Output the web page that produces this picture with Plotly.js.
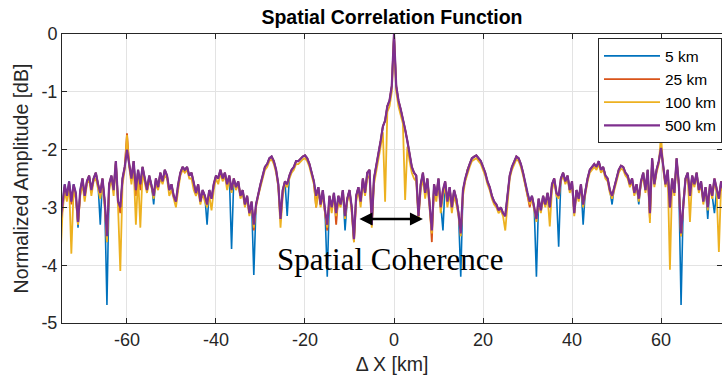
<!DOCTYPE html>
<html>
<head>
<meta charset="utf-8">
<script src="https://cdn.plot.ly/plotly-3.0.1.min.js"></script>
<style>html,body{margin:0;padding:0;background:#fff;overflow:hidden}</style>
</head>
<body>
<div id="chart" style="width:722px;height:384px"></div>
<script>
// Sample grid: first ΔX and spacing [km]
const X_START = -75;
const X_STEP = 0.5;

const seriesNames = ['5 km', '25 km', '100 km', '500 km'];

// 5 km (blue)
const amp5km = [
-3.3,-3.0,-2.6,-2.8,-2.55,-2.9,-2.6,-2.75,-3.35,-2.7,
-2.5,-2.8,-2.55,-2.45,-2.7,-2.5,-2.4,-2.6,-3.3,-2.5,
-2.9,-4.69,-2.6,-2.45,-2.7,-2.2,-2.9,-3.0,-2.5,-2.3,
-2.0,-2.25,-2.5,-2.2,-2.7,-2.35,-2.6,-2.3,-2.5,-2.7,
-2.45,-2.6,-2.95,-2.5,-2.65,-2.4,-2.55,-2.35,-2.45,-2.7,
-2.6,-2.8,-2.9,-2.6,-2.4,-2.3,-2.35,-2.3,-2.45,-2.4,
-2.6,-2.75,-2.6,-2.9,-2.7,-2.8,-3.3,-2.7,-2.85,-2.6,
-2.45,-2.5,-2.35,-2.5,-2.4,-2.6,-2.45,-3.72,-2.5,-2.65,
-2.55,-2.8,-2.7,-2.95,-2.8,-3.1,-2.9,-4.17,-2.95,-2.75,
-2.6,-2.45,-2.3,-2.25,-2.15,-2.12,-2.2,-2.35,-2.6,-3.2,
-2.7,-2.55,-3.15,-2.45,-2.35,-2.3,-2.2,-2.2,-2.15,-2.12,
-2.1,-2.15,-2.25,-2.4,-2.55,-2.8,-2.65,-2.95,-2.7,-3.05,
-4.2,-2.8,-3.0,-2.75,-3.1,-2.8,-2.95,-2.7,-3.4,-2.85,
-2.7,-3.0,-3.55,-2.8,-2.65,-2.9,-2.5,-2.75,-2.4,-2.35,
-3.3,-2.5,-2.3,-2.05,-1.85,-1.6,-1.5,-1.25,-1.15,-0.9,
0,-0.9,-1.15,-1.3,-1.45,-1.65,-1.85,-2.1,-2.3,-2.4,
-2.45,-3.15,-2.6,-2.4,-2.75,-2.5,-2.9,-3.4,-2.6,-2.8,
-2.5,-3.0,-3.4,-2.55,-2.9,-2.65,-3.0,-2.7,-2.85,-3.1,
-4.2,-2.7,-2.5,-2.35,-2.25,-2.15,-2.12,-2.1,-2.15,-2.2,
-2.3,-2.4,-2.55,-2.65,-2.8,-2.9,-2.95,-3.05,-3.0,-3.1,
-3.15,-2.8,-2.45,-2.3,-2.2,-2.12,-2.15,-2.25,-2.4,-2.6,
-2.75,-2.9,-2.8,-3.0,-4.2,-2.85,-3.05,-2.8,-2.95,-2.75,
-3.0,-2.6,-2.5,-2.75,-3.68,-2.5,-2.4,-2.55,-2.45,-2.7,
-2.55,-3.1,-2.7,-2.85,-2.6,-3.3,-2.7,-2.5,-2.35,-2.3,
-2.25,-2.3,-2.2,-2.35,-2.3,-2.45,-2.5,-2.7,-2.95,-2.65,
-2.5,-2.35,-2.28,-2.3,-2.4,-2.45,-2.6,-2.5,-2.75,-2.6,
-2.95,-2.55,-2.4,-2.7,-2.35,-3.1,-2.15,-2.6,-2.35,-2.2,
-1.97,-2.3,-2.6,-2.35,-3.0,-2.5,-2.75,-2.15,-2.6,-4.69,
-2.9,-2.5,-2.4,-2.8,-2.45,-2.6,-2.4,-2.7,-2.55,-2.9,
-2.65,-3.2,-2.6,-2.8,-3.1,-2.7,-2.85,-2.55,-2.7
];

// 25 km (orange)
const amp25km = [
-3.4,-3.05,-2.65,-2.85,-2.6,-2.95,-2.65,-2.8,-3.3,-2.75,
-2.5,-2.8,-2.55,-2.45,-2.7,-2.5,-2.4,-2.6,-2.75,-2.5,
-2.9,-3.6,-2.6,-2.45,-2.7,-2.2,-2.9,-3.1,-2.5,-2.3,
-1.72,-2.25,-2.5,-2.2,-2.8,-2.35,-2.7,-2.3,-2.5,-2.7,
-2.45,-2.6,-2.8,-2.5,-2.65,-2.4,-2.55,-2.35,-2.45,-2.7,
-2.6,-2.8,-2.9,-2.6,-2.4,-2.3,-2.35,-2.3,-2.45,-2.4,
-2.6,-2.75,-2.6,-2.9,-2.7,-2.8,-2.95,-2.7,-2.85,-2.6,
-2.45,-2.5,-2.35,-2.5,-2.4,-2.6,-2.45,-2.7,-2.5,-2.65,
-2.55,-2.8,-2.7,-2.95,-2.8,-3.1,-2.9,-3.4,-2.95,-2.75,
-2.6,-2.45,-2.3,-2.25,-2.15,-2.12,-2.2,-2.35,-2.6,-3.2,
-2.7,-2.55,-2.6,-2.45,-2.35,-2.3,-2.2,-2.2,-2.15,-2.12,
-2.1,-2.15,-2.25,-2.4,-2.55,-3.0,-2.65,-2.95,-2.7,-3.1,
-3.4,-2.8,-3.0,-2.75,-3.3,-2.8,-2.95,-2.7,-3.15,-2.85,
-2.7,-3.0,-3.6,-2.8,-2.65,-2.9,-2.5,-2.75,-2.4,-2.35,
-3.3,-2.5,-2.3,-2.05,-1.85,-1.6,-1.5,-1.25,-1.15,-0.9,
0,-0.9,-1.15,-1.3,-1.45,-1.65,-1.85,-2.1,-2.3,-2.4,
-2.45,-3.15,-2.6,-2.4,-2.75,-2.5,-2.9,-3.6,-2.6,-2.8,
-2.5,-3.0,-2.7,-2.55,-2.9,-2.65,-3.0,-2.7,-2.85,-3.1,
-3.45,-2.7,-2.5,-2.35,-2.25,-2.15,-2.12,-2.1,-2.15,-2.2,
-2.3,-2.4,-2.55,-2.65,-2.8,-2.9,-2.95,-3.05,-3.0,-3.1,
-3.15,-2.8,-2.45,-2.3,-2.2,-2.12,-2.15,-2.25,-2.4,-2.6,
-2.75,-3.0,-2.8,-3.0,-3.2,-2.85,-3.05,-2.8,-2.95,-2.75,
-3.0,-2.6,-2.5,-2.75,-2.8,-2.5,-2.4,-2.55,-2.45,-2.7,
-2.55,-3.1,-2.7,-2.85,-2.6,-2.95,-2.7,-2.5,-2.35,-2.3,
-2.25,-2.3,-2.2,-2.35,-2.3,-2.45,-2.5,-2.7,-2.8,-2.65,
-2.5,-2.35,-2.28,-2.3,-2.4,-2.45,-2.6,-2.5,-2.75,-2.6,
-2.85,-2.55,-2.4,-2.7,-2.35,-3.2,-2.15,-2.6,-2.35,-2.2,
-1.97,-2.3,-2.6,-2.35,-3.0,-2.5,-2.75,-2.15,-2.6,-3.5,
-2.9,-2.5,-2.4,-2.8,-2.45,-2.6,-2.4,-2.7,-2.55,-2.9,
-2.65,-3.0,-2.6,-2.8,-2.5,-2.7,-2.85,-2.55,-2.7
];

// 100 km (yellow)
const amp100km = [
-4.0,-3.1,-2.7,-2.9,-2.6,-3.8,-2.7,-2.85,-3.3,-2.8,
-2.6,-2.9,-2.6,-2.5,-2.8,-2.55,-2.5,-2.7,-2.85,-2.6,
-3.0,-3.6,-2.7,-2.5,-2.8,-2.25,-3.0,-4.1,-2.6,-2.35,
-1.75,-2.3,-2.6,-2.3,-3.3,-2.45,-3.35,-2.4,-2.6,-2.75,
-2.55,-2.65,-2.85,-2.6,-2.7,-2.5,-2.6,-2.45,-2.5,-2.8,
-2.7,-2.85,-3.0,-2.7,-2.45,-2.35,-2.4,-2.35,-2.5,-2.5,
-2.7,-2.8,-2.7,-2.95,-2.75,-2.9,-3.0,-2.8,-3.05,-2.7,
-2.5,-2.6,-2.4,-2.55,-2.45,-2.7,-2.5,-2.75,-2.55,-2.7,
-2.6,-2.85,-2.75,-3.0,-2.85,-3.15,-2.95,-3.35,-3.0,-2.8,
-2.65,-2.5,-2.35,-2.3,-2.2,-2.17,-2.25,-2.4,-2.65,-3.35,
-2.8,-2.6,-2.65,-2.5,-2.4,-2.35,-2.25,-2.25,-2.2,-2.17,
-2.15,-2.2,-2.3,-2.45,-2.6,-3.0,-2.7,-3.0,-2.8,-3.1,
-3.35,-2.85,-3.1,-2.8,-3.15,-2.9,-3.0,-2.75,-3.2,-2.9,
-2.75,-3.1,-3.6,-2.9,-2.7,-3.0,-2.6,-2.8,-2.5,-2.45,
-3.35,-2.6,-2.4,-2.15,-1.95,-1.7,-2.9,-1.35,-1.25,-1.0,
-0.05,-1.0,-1.25,-1.4,-1.55,-2.87,-1.95,-2.2,-2.4,-2.5,
-2.55,-3.2,-2.7,-2.5,-2.85,-2.6,-3.0,-3.45,-2.7,-2.9,
-2.6,-3.1,-2.8,-2.65,-3.0,-2.75,-3.1,-2.8,-2.95,-3.15,
-3.5,-2.8,-2.55,-2.4,-2.3,-2.2,-2.17,-2.15,-2.2,-2.25,
-2.35,-2.45,-2.6,-2.7,-2.85,-2.95,-3.0,-3.1,-3.05,-3.15,
-3.4,-2.9,-2.5,-2.35,-2.25,-2.17,-2.2,-2.3,-2.45,-2.65,
-2.8,-2.95,-2.85,-3.05,-3.25,-2.9,-3.1,-2.85,-3.0,-2.8,
-3.33,-2.7,-2.55,-2.8,-2.85,-2.55,-2.45,-2.6,-2.5,-2.75,
-2.6,-3.15,-2.75,-2.9,-2.65,-3.0,-2.75,-2.55,-2.4,-2.35,
-2.3,-2.35,-2.25,-2.4,-2.35,-2.5,-2.55,-2.75,-2.85,-2.7,
-2.55,-2.4,-2.33,-2.35,-2.45,-2.5,-2.65,-2.55,-2.8,-2.65,
-2.9,-2.6,-2.45,-2.75,-2.4,-3.27,-2.2,-2.65,-2.4,-2.25,
-1.75,-2.35,-2.65,-2.4,-4.08,-2.55,-2.8,-2.2,-2.65,-3.5,
-2.95,-2.55,-2.45,-3.25,-2.5,-2.65,-2.45,-2.75,-2.6,-2.95,
-2.7,-3.05,-2.65,-2.85,-2.55,-2.75,-3.77,-2.6,-2.75
];

// 500 km (purple)
const amp500km = [
-3.3,-3.0,-2.6,-2.8,-2.55,-2.9,-2.6,-2.75,-3.25,-2.7,
-2.5,-2.8,-2.55,-2.45,-2.7,-2.5,-2.4,-2.6,-2.75,-2.5,
-2.9,-3.5,-2.6,-2.45,-2.7,-2.2,-2.9,-3.0,-2.5,-2.3,
-2.0,-2.25,-2.5,-2.2,-2.7,-2.35,-2.6,-2.3,-2.5,-2.7,
-2.45,-2.6,-2.8,-2.5,-2.65,-2.4,-2.55,-2.35,-2.45,-2.7,
-2.6,-2.8,-2.9,-2.6,-2.4,-2.3,-2.35,-2.3,-2.45,-2.4,
-2.6,-2.75,-2.6,-2.9,-2.7,-2.8,-2.95,-2.7,-2.85,-2.6,
-2.45,-2.5,-2.35,-2.5,-2.4,-2.6,-2.45,-2.7,-2.5,-2.65,
-2.55,-2.8,-2.7,-2.95,-2.8,-3.1,-2.9,-3.3,-2.95,-2.75,
-2.6,-2.45,-2.3,-2.25,-2.15,-2.12,-2.2,-2.35,-2.6,-3.2,
-2.7,-2.55,-2.6,-2.45,-2.35,-2.3,-2.2,-2.2,-2.15,-2.12,
-2.1,-2.15,-2.25,-2.4,-2.55,-2.8,-2.65,-2.95,-2.7,-3.05,
-3.3,-2.8,-3.0,-2.75,-3.1,-2.8,-2.95,-2.7,-3.15,-2.85,
-2.7,-3.0,-3.55,-2.8,-2.65,-2.9,-2.5,-2.75,-2.4,-2.35,
-3.3,-2.5,-2.3,-2.05,-1.85,-1.6,-1.5,-1.25,-1.15,-0.9,
0,-0.9,-1.15,-1.3,-1.45,-1.65,-1.85,-2.1,-2.3,-2.4,
-2.45,-3.15,-2.6,-2.4,-2.75,-2.5,-2.9,-3.4,-2.6,-2.8,
-2.5,-3.0,-2.7,-2.55,-2.9,-2.65,-3.0,-2.7,-2.85,-3.1,
-3.45,-2.7,-2.5,-2.35,-2.25,-2.15,-2.12,-2.1,-2.15,-2.2,
-2.3,-2.4,-2.55,-2.65,-2.8,-2.9,-2.95,-3.05,-3.0,-3.1,
-3.15,-2.8,-2.45,-2.3,-2.2,-2.12,-2.15,-2.25,-2.4,-2.6,
-2.75,-2.9,-2.8,-3.0,-3.2,-2.85,-3.05,-2.8,-2.95,-2.75,
-3.0,-2.6,-2.5,-2.75,-2.8,-2.5,-2.4,-2.55,-2.45,-2.7,
-2.55,-3.1,-2.7,-2.85,-2.6,-2.95,-2.7,-2.5,-2.35,-2.3,
-2.25,-2.3,-2.2,-2.35,-2.3,-2.45,-2.5,-2.7,-2.8,-2.65,
-2.5,-2.35,-2.28,-2.3,-2.4,-2.45,-2.6,-2.5,-2.75,-2.6,
-2.85,-2.55,-2.4,-2.7,-2.35,-3.1,-2.15,-2.6,-2.35,-2.2,
-1.97,-2.3,-2.6,-2.35,-3.0,-2.5,-2.75,-2.15,-2.6,-3.45,
-2.9,-2.5,-2.4,-2.8,-2.45,-2.6,-2.4,-2.7,-2.55,-2.9,
-2.65,-3.0,-2.6,-2.8,-2.5,-2.7,-2.85,-2.55,-2.7
];

const xTickVals = [-60, -40, -20, 0, 20, 40, 60];
const xTickText = ['-60', '-40', '-20', '0', '20', '40', '60'];
const yTickVals = [-5, -4, -3, -2, -1, 0];
const yTickText = ['-5', '-4', '-3', '-2', '-1', '0'];

const colors = ['#0072BD', '#D95319', '#EDB120', '#7E2F8E'];
const widths = [1.6, 1.8, 1.8, 2.2];
const seriesData = [amp5km, amp25km, amp100km, amp500km];

const traces = seriesData.map((ys, i) => ({
  type: 'scatter',
  mode: 'lines',
  name: seriesNames[i],
  x0: X_START,
  dx: X_STEP,
  y: ys,
  line: {color: colors[i], width: widths[i]}
}));

const axisCommon = {
  ticks: 'inside', ticklen: 5, tickwidth: 1, tickcolor: '#262626',
  showline: true, linecolor: '#262626', linewidth: 1, mirror: 'ticks',
  showgrid: true, gridcolor: '#e3e3e3', gridwidth: 1, zeroline: false,
  tickfont: {family: 'Liberation Sans, Arial, sans-serif', size: 18, color: '#262626'}
};

const layout = {
  width: 722, height: 384,
  margin: {l: 62, r: 0, t: 34, b: 61, pad: 0},
  paper_bgcolor: '#ffffff', plot_bgcolor: '#ffffff',
  font: {family: 'Liberation Sans, Arial, sans-serif', color: '#262626', size: 18},
  showlegend: true,
  title: {
    text: 'Spatial Correlation Function',
    font: {family: 'Liberation Sans, Arial, sans-serif', size: 19.5, color: '#000000', weight: 'bold'},
    x: 0.5, xref: 'paper', xanchor: 'center',
    y: 0.955, yref: 'container', yanchor: 'middle'
  },
  xaxis: Object.assign({}, axisCommon, {
    range: [-74.6, 73.7], autorange: false,
    tickmode: 'array', tickvals: xTickVals, ticktext: xTickText,
    title: {text: 'Δ X [km]', font: {size: 19.5, color: '#262626'}, standoff: 8}
  }),
  yaxis: Object.assign({}, axisCommon, {
    range: [-5, 0], autorange: false,
    tickmode: 'array', tickvals: yTickVals, ticktext: yTickText,
    title: {text: 'Normalized Amplitude [dB]', font: {size: 19.5, color: '#262626'}, standoff: 7}
  }),
  legend: {
    x: 1, xanchor: 'right', y: 0.985, yanchor: 'top',
    bgcolor: '#ffffff', bordercolor: '#262626', borderwidth: 1,
    font: {family: 'Liberation Sans, Arial, sans-serif', size: 15.5, color: '#000000'},
    itemwidth: 56, tracegroupgap: 0
  },
  annotations: [
    {
      x: -0.8, y: -3.9, xref: 'x', yref: 'y', showarrow: false,
      text: 'Spatial Coherence',
      font: {family: 'Liberation Serif, Times New Roman, serif', size: 31, color: '#000000'},
      xanchor: 'center', yanchor: 'middle'
    },
    {
      x: 6.5, y: -3.2, ax: -8.1, ay: -3.2, xref: 'x', yref: 'y', axref: 'x', ayref: 'y',
      text: '', showarrow: true, arrowhead: 2, startarrowhead: 2, arrowside: 'end+start',
      arrowsize: 1, startarrowsize: 1, arrowwidth: 2.6, arrowcolor: '#000000', standoff: 0, startstandoff: 0
    }
  ]
};

Plotly.newPlot('chart', traces, layout, {displayModeBar: false, staticPlot: true});
</script>
</body>
</html>
